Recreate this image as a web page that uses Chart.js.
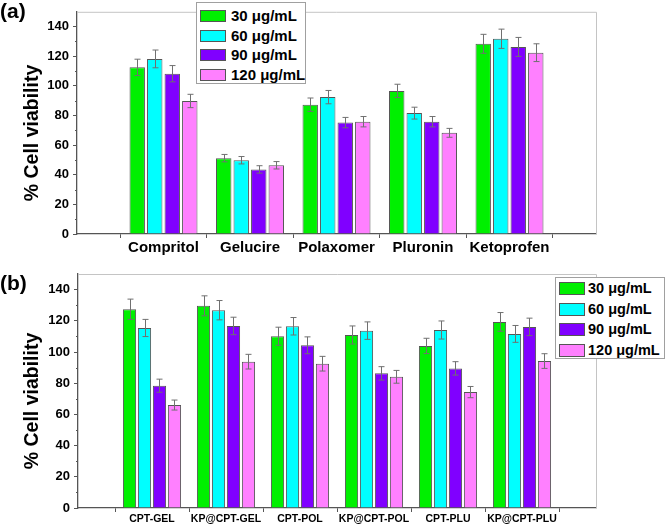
<!DOCTYPE html>
<html>
<head>
<meta charset="utf-8">
<script src="https://cdn.jsdelivr.net/npm/chart.js@4.4.1/dist/chart.umd.min.js"></script>
<style>
  body { margin: 0; background: #fff; }
  #wrap { position: relative; width: 666px; height: 526px; font-family: Arial, "Liberation Sans", sans-serif; }
  canvas { position: absolute; left: 0; }
  .tag { position: absolute; left: 0; font-weight: bold; font-size: 21px; line-height: 21px; }
  .legend { position: absolute; box-sizing: border-box; border: 1px solid #a0a0a0; background: #fff; }
  .legend .sw { position: absolute; box-sizing: border-box; border: 1px solid #555; }
  .legend .txt { position: absolute; font-weight: bold; white-space: nowrap; color: #000; }
</style>
</head>
<body>
<div id="wrap">
  <canvas id="chartA" width="666" height="262" style="top:0"></canvas>
  <canvas id="chartB" width="666" height="264" style="top:262px"></canvas>
  <div class="tag" style="top:0">(a)</div>
  <div class="tag" style="top:272px">(b)</div>
  <div class="legend" id="legendA"></div>
  <div class="legend" id="legendB"></div>
</div>
<script>
// concentrations (series)
const concLabels = ['30 μg/mL', '60 μg/mL', '90 μg/mL', '120 μg/mL'];
const concColors = ['#00f000', '#00ffff', '#8000ff', '#ff80ff'];

// panel (a)
const carriersA = ['Compritol', 'Gelucire', 'Polaxomer', 'Pluronin', 'Ketoprofen'];
const a30 = [112.5, 51.2, 87.3, 96.6, 128.4];
const a60 = [118.2, 49.8, 92.4, 81.6, 131.8];
const a90 = [108.2, 43.6, 75.2, 75.8, 126.3];
const a120 = [89.8, 46.4, 75.8, 68.3, 122.4];
const errA30 = [5.5, 2.5, 4.5, 4.5, 6.4];
const errA60 = [6.0, 2.5, 4.5, 4.0, 6.5];
const errA90 = [5.5, 2.5, 3.5, 3.5, 6.4];
const errA120 = [4.5, 2.5, 3.5, 3.0, 6.0];

// panel (b)
const formulationsB = ['CPT-GEL', 'KP@CPT-GEL', 'CPT-POL', 'KP@CPT-POL', 'CPT-PLU', 'KP@CPT-PLU'];
const b30 = [127.4, 129.6, 110.1, 110.9, 103.9, 119.3];
const b60 = [115.4, 126.8, 116.5, 113.7, 114.1, 111.6];
const b90 = [78.4, 116.7, 104.3, 86.3, 89.5, 116.1];
const b120 = [66.0, 93.8, 92.5, 84.1, 74.3, 94.2];
const errB30 = [6.5, 6.4, 5.8, 5.8, 4.9, 6.0];
const errB60 = [5.5, 6.2, 5.6, 5.6, 5.8, 5.4];
const errB90 = [4.2, 5.6, 5.4, 4.3, 4.3, 5.6];
const errB120 = [3.2, 4.7, 4.7, 4.1, 3.6, 4.7];

const yTicks = { min: 0, max: 150, major: 20, minor: 10 };
const yTitle = '% Cell viability';
const FONT = 'Arial, "Liberation Sans", sans-serif';

// error bars, minor ticks, light frame and y title
const panelExtras = {
  id: 'panelExtras',
  afterDraw(chart, args, opts) {
    const ctx = chart.ctx;
    const area = chart.chartArea;
    const y = chart.scales.y;
    ctx.save();

    // light frame top / right
    ctx.strokeStyle = '#c4c4c4';
    ctx.lineWidth = 1;
    ctx.beginPath();
    ctx.moveTo(area.left, area.top + 0.5);
    ctx.lineTo(area.right + 0.5, area.top + 0.5);
    ctx.lineTo(area.right + 0.5, area.bottom);
    ctx.stroke();

    // minor ticks
    ctx.strokeStyle = '#555';
    ctx.beginPath();
    for (let v = yTicks.minor; v < yTicks.max; v += yTicks.major) {
      const py = Math.round(y.getPixelForValue(v)) + 0.5;
      ctx.moveTo(area.left - 2, py);
      ctx.lineTo(area.left, py);
    }
    ctx.stroke();

    // error bars
    ctx.strokeStyle = '#707070';
    chart.data.datasets.forEach((ds, d) => {
      const meta = chart.getDatasetMeta(d);
      meta.data.forEach((bar, i) => {
        const v = ds.data[i];
        if (v == null) return;
        const e = opts.errors[d][i - 1];
        const top = y.getPixelForValue(v + e);
        const bot = y.getPixelForValue(v - e);
        const x = Math.round(bar.x) + 0.5;
        ctx.beginPath();
        ctx.moveTo(x, top); ctx.lineTo(x, bot);
        ctx.moveTo(x - 3, top); ctx.lineTo(x + 3, top);
        ctx.moveTo(x - 3, bot); ctx.lineTo(x + 3, bot);
        ctx.stroke();
      });
    });

    // y title
    ctx.translate(opts.titleX, opts.titleY);
    ctx.rotate(-Math.PI / 2);
    ctx.fillStyle = '#000';
    ctx.font = 'bold 19.5px ' + FONT;
    ctx.textAlign = 'center';
    ctx.textBaseline = 'middle';
    ctx.fillText(yTitle, 0, 0);
    ctx.restore();
  }
};

function makePanel(canvasId, cats, series, errors, g) {
  const labels = ['', ...cats, ''];
  const datasets = series.map((vals, k) => ({
    label: concLabels[k],
    data: [null, ...vals, null],
    backgroundColor: concColors[k],
    borderColor: '#555',
    borderWidth: 1,
    borderSkipped: 'bottom',
    categoryPercentage: 0.81,
    barPercentage: 0.88
  }));

  return new Chart(document.getElementById(canvasId), {
    type: 'bar',
    data: { labels: labels, datasets: datasets },
    plugins: [panelExtras],
    options: {
      responsive: false,
      animation: false,
      devicePixelRatio: 1,
      layout: { padding: { top: g.top, right: g.right, left: 0, bottom: 0 } },
      plugins: {
        legend: { display: false },
        tooltip: { enabled: false },
        panelExtras: { errors: errors, titleX: 33, titleY: g.titleY }
      },
      scales: {
        x: {
          type: 'category',
          offset: false,
          grid: { display: true, drawOnChartArea: false, drawTicks: true, tickLength: 4, color: '#555' },
          border: { display: true, color: '#555', width: 1.3 },
          ticks: { autoSkip: false, maxRotation: 0, padding: g.xPad, color: '#000',
                   font: { family: FONT, size: g.xFont, weight: 'bold' } },
          afterFit: s => { s.height = g.xHeight; }
        },
        y: {
          min: yTicks.min,
          max: yTicks.max,
          grid: { display: true, drawOnChartArea: false, drawTicks: true, tickLength: 4, color: '#555' },
          border: { display: true, color: '#555', width: 1.3 },
          ticks: { stepSize: yTicks.major, includeBounds: false, padding: 4, color: '#000',
                   font: { family: FONT, size: 13, weight: 'bold' } },
          afterFit: s => { s.width = g.left; }
        }
      }
    }
  });
}

function makeLegend(id, g) {
  const box = document.getElementById(id);
  box.style.left = g.left + 'px';
  box.style.top = g.top + 'px';
  box.style.width = g.width + 'px';
  box.style.height = g.height + 'px';
  concLabels.forEach((lab, k) => {
    const rowTop = g.row0 + k * g.pitch;
    const sw = document.createElement('div');
    sw.className = 'sw';
    sw.style.left = g.swX + 'px';
    sw.style.top = rowTop + 'px';
    sw.style.width = g.swW + 'px';
    sw.style.height = g.swH + 'px';
    sw.style.background = concColors[k];
    box.appendChild(sw);
    const t = document.createElement('div');
    t.className = 'txt';
    t.textContent = lab;
    t.style.left = g.textX + 'px';
    t.style.fontSize = g.font + 'px';
    t.style.lineHeight = g.swH + 'px';
    t.style.top = rowTop + 'px';
    box.appendChild(t);
  });
}

makePanel('chartA', carriersA, [a30, a60, a90, a120], [errA30, errA60, errA90, errA120],
  { top: 1, right: 70, left: 77, xHeight: 28, xPad: 1, xFont: 15, titleY: 133 });
makePanel('chartB', formulationsB, [b30, b60, b90, b120], [errB30, errB60, errB90, errB120],
  { top: 12, right: 70, left: 78, xHeight: 18, xPad: 1, xFont: 10.5, titleY: 139 });

makeLegend('legendA', { left: 196, top: 2, width: 110, height: 82, swX: 3, swW: 26, swH: 12, row0: 7, pitch: 19.7, textX: 34, font: 15 });
makeLegend('legendB', { left: 555, top: 277, width: 110, height: 82, swX: 3, swW: 26, swH: 13, row0: 4, pitch: 20.6, textX: 32, font: 14.5 });
</script>
</body>
</html>
